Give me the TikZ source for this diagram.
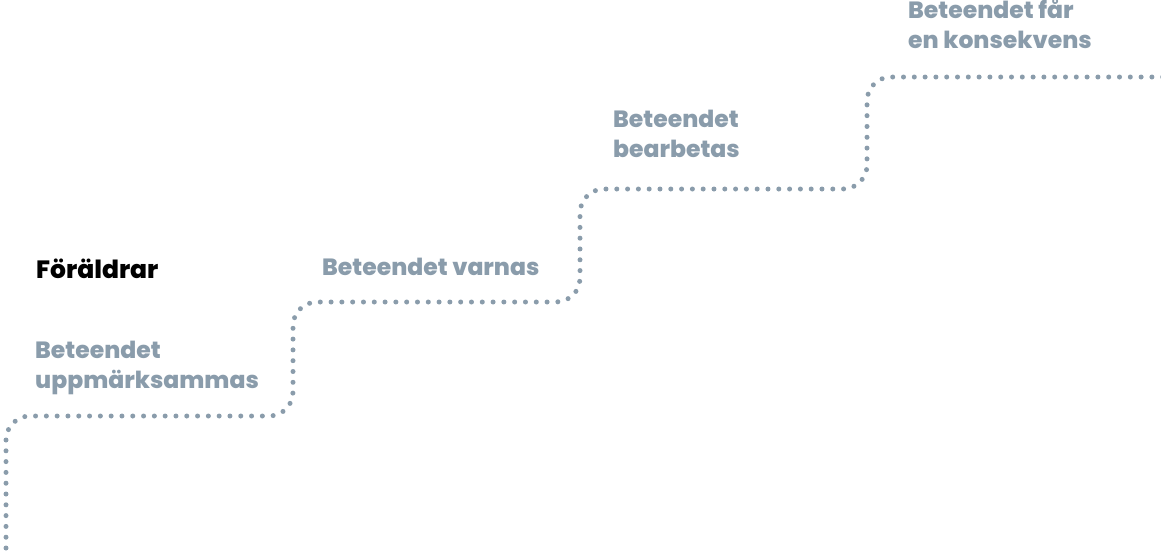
\documentclass[tikz,border=0pt]{standalone}
\usepackage{fontspec}
\setmainfont{Poppins}[BoldFont={Poppins ExtraBold}]
\usetikzlibrary{positioning}

\definecolor{stairgray}{RGB}{138,156,171}

\begin{document}
\begin{tikzpicture}[x=1pt,y=-1pt,
  steplabel/.style={anchor=base west, inner sep=0pt, align=left, text=stairgray,
                    font=\bfseries\fontsize{23.5}{29.5}\selectfont},
  stairline/.style={draw=stairgray, line width=5pt, line cap=round,
                    dash pattern=on 0pt off 10.8pt, rounded corners=24pt}]
\useasboundingbox (0,0) rectangle (1161,555);
% corners of the stairs
\coordinate (s0) at (6,548);
\coordinate (s1) at (6,416);
\coordinate (s2) at (293,416);
\coordinate (s3) at (293,302);
\coordinate (s4) at (580,302);
\coordinate (s5) at (580,189);
\coordinate (s6) at (867,189);
\coordinate (s7) at (867,77);
\coordinate (s8) at (1166,77);
\draw[stairline] (s0) -- (s1) -- (s2) -- (s3) -- (s4) -- (s5) -- (s6) -- (s7) -- (s8);
% labels (anchored at the baseline of the last line)
\node[steplabel, text=black, font=\bfseries\fontsize{25}{29.5}\selectfont] (parents) at (36,278) {Föräldrar};
\node[steplabel] (noticed) at (35,388) {Beteendet\\uppmärksammas};
\node[steplabel] (warned) at (322,275) {Beteendet varnas};
\node[steplabel] (processed) at (613,157) {Beteendet\\bearbetas};
\node[steplabel] (consequence) at (908,48) {Beteendet får\\en konsekvens};
\end{tikzpicture}
\end{document}
